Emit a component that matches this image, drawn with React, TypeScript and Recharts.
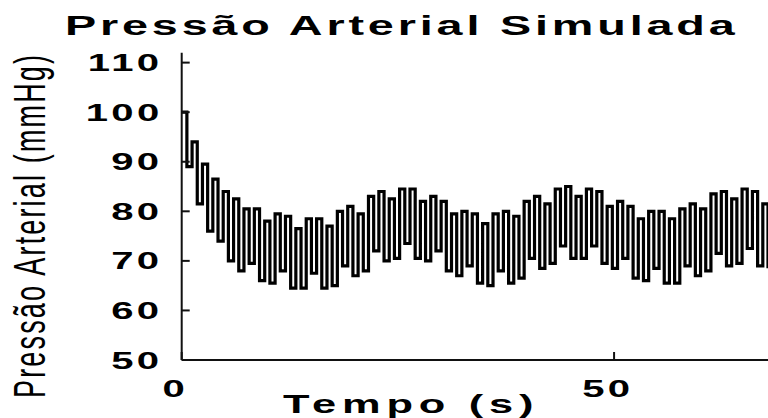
import { LineChart, Line, XAxis, YAxis } from 'recharts';

// beat onset times (s)
const beatTime = [
  0, 1.2, 2.4, 3.6, 4.8, 6, 7.2, 8.4, 9.6, 10.8, 12, 13.2, 14.4, 15.6, 16.8, 18, 19.2, 20.4, 21.6,
  22.8, 24, 25.2, 26.4, 27.6, 28.8, 30, 31.2, 32.4, 33.6, 34.8, 36, 37.2, 38.4, 39.6, 40.8, 42,
  43.2, 44.4, 45.6, 46.8, 48, 49.2, 50.4, 51.6, 52.8, 54, 55.2, 56.4, 57.6, 58.8, 60, 61.2, 62.4,
  63.6, 64.8, 66, 67.2,
];

// peak pressure of each beat (mmHg)
const systolic = [
  100, 94, 89.5, 86.5, 84, 82.5, 80.5, 80.5, 78, 79.5, 79, 76.5, 78.5, 78.5, 77, 80, 81, 79.5, 83,
  84, 82.5, 84.5, 84.5, 82, 83, 82, 79.5, 80, 79.5, 77.5, 79.5, 80, 79, 82, 83, 81.5, 84.5, 85,
  83, 84.5, 84, 81, 82, 81, 78.5, 80, 80, 78.5, 80.5, 81.5, 80.5, 83.5, 84, 82.5, 84.5, 84, 81.5,
];

// trough pressure of each beat (mmHg)
const diastolic = [
  89, 81.5, 76, 74, 70, 68, 69.5, 66, 65.5, 68, 64.5, 64.5, 67.5, 64.5, 65, 69, 67, 68, 72, 70,
  70.5, 73.5, 70.5, 70, 72, 68, 67, 69, 65.5, 65, 68, 65.5, 66.5, 70.5, 68.5, 69.5, 73, 70.5,
  70.5, 73, 69.5, 68.5, 70.5, 66.5, 66, 68.5, 65.5, 65.5, 69, 67, 68, 71.5, 69, 69.5, 72.5, 69,
  68.5,
];

const systoleLength = 0.6;
const xTicks = [0, 50];
const yTicks = [50, 60, 70, 80, 90, 100, 110];

const data = beatTime.flatMap((t, i) => [
  { t, p: systolic[i] },
  { t: t + systoleLength, p: diastolic[i] },
]);

const FONT = 'Liberation Sans, Arial, Helvetica, sans-serif';
const STRETCH = 1.67;

const YTick = (props: any) => {
  const { x, y, payload } = props;
  return (
    <g>
      <line x1={x} x2={x + 8} y1={y} y2={y} stroke="#111" strokeWidth={2} />
      <text
        transform={`translate(${x - 19.2},${y}) scale(${STRETCH},1)`}
        textAnchor="end"
        dy="0.355em"
        fontSize={24}
        fontWeight="bold"
        letterSpacing={2}
        fontFamily={FONT}
        fill="#000"
      >
        {payload.value}
      </text>
    </g>
  );
};

const XTick = (props: any) => {
  const { x, y, payload } = props;
  return (
    <g>
      <line x1={x} x2={x} y1={y} y2={y - 8} stroke="#111" strokeWidth={2} />
      <text
        transform={`translate(${x - 6.3},${y + 37}) scale(${STRETCH},1)`}
        textAnchor="middle"
        fontSize={24}
        fontWeight="bold"
        letterSpacing={2}
        fontFamily={FONT}
        fill="#000"
      >
        {payload.value}
      </text>
    </g>
  );
};

export default function App() {
  return (
    <div style={{ position: 'absolute', left: 0, top: 0, width: 768, height: 418, background: '#fff', overflow: 'hidden' }}>
      <LineChart width={768} height={418} data={data} margin={{ top: 52.7, right: 0, bottom: 0, left: 0 }}>
        <XAxis
          dataKey="t"
          type="number"
          domain={[0, 67.8]}
          ticks={xTicks}
          interval={0}
          allowDataOverflow
          height={58}
          tickSize={0}
          tickMargin={0}
          tickLine={false}
          axisLine={{ stroke: '#111', strokeWidth: 2 }}
          tick={<XTick />}
        />
        <YAxis
          type="number"
          domain={[50, 112]}
          ticks={yTicks}
          interval={0}
          allowDataOverflow
          width={181.7}
          tickSize={0}
          tickMargin={0}
          tickLine={false}
          axisLine={{ stroke: '#111', strokeWidth: 2 }}
          tick={<YTick />}
        />
        <Line
          type="stepAfter"
          dataKey="p"
          stroke="#000"
          strokeWidth={3.2}
          dot={false}
          isAnimationActive={false}
        />
      </LineChart>
      <svg width={768} height={418} style={{ position: 'absolute', left: 0, top: 0, pointerEvents: 'none' }}>
        <text
          transform={`translate(65,35) scale(${STRETCH},1)`}
          fontSize={28}
          fontWeight="bold"
          fontFamily={FONT}
          textLength={401}
          lengthAdjust="spacing"
        >
          Pressão Arterial Simulada
        </text>
        <text
          transform={`translate(283,413) scale(${STRETCH},1)`}
          fontSize={26}
          fontWeight="bold"
          fontFamily={FONT}
          textLength={150}
          lengthAdjust="spacing"
        >
          Tempo (s)
        </text>
        <text
          transform={`translate(45,226.5) scale(${STRETCH},1) rotate(-90)`}
          textAnchor="middle"
          fontSize={27}
          fontFamily={FONT}
          textLength={343}
          lengthAdjust="spacing"
        >
          Pressão Arterial (mmHg)
        </text>
      </svg>
    </div>
  );
}
